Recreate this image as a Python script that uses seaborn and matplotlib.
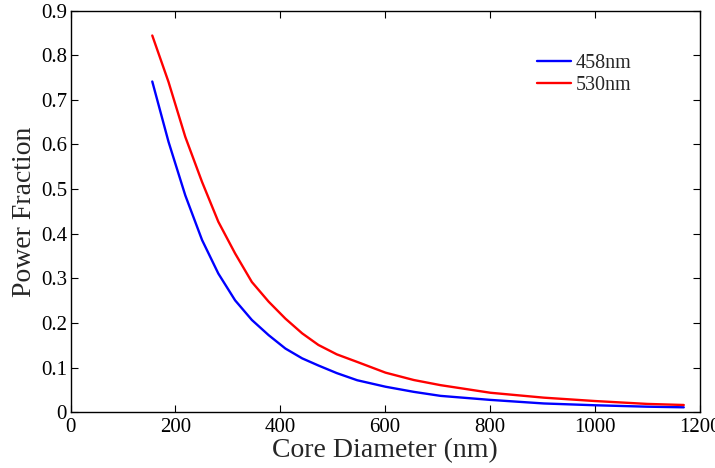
import matplotlib
matplotlib.use("Agg")
import matplotlib.pyplot as plt
import seaborn as sns
import pandas as pd

core_diameter = [156, 187, 219, 251, 282, 314, 346, 378, 410, 442, 473, 508,
                 547, 601, 655, 706, 801, 903, 1000, 1100, 1170]
frac_458 = [0.741, 0.606, 0.486, 0.386, 0.311, 0.251, 0.207, 0.173, 0.143, 0.121,
            0.105, 0.088, 0.072, 0.0575, 0.046, 0.037, 0.028, 0.020, 0.016, 0.0128, 0.0114]
frac_530 = [0.844, 0.740, 0.617, 0.516, 0.427, 0.356, 0.292, 0.248, 0.210, 0.177,
            0.151, 0.130, 0.113, 0.089, 0.0725, 0.061, 0.044, 0.033, 0.0255, 0.019, 0.0166]
series_labels = ["458nm", "530nm"]
x_ticks = [0, 200, 400, 600, 800, 1000, 1200]
y_ticks = [0, 0.1, 0.2, 0.3, 0.4, 0.5, 0.6, 0.7, 0.8, 0.9]

df = pd.DataFrame({
    "x": core_diameter + core_diameter,
    "y": frac_458 + frac_530,
    "series": [series_labels[0]] * len(core_diameter) + [series_labels[1]] * len(core_diameter),
})

sns.set_style("ticks")
plt.rcParams["font.family"] = ["Liberation Serif", "DejaVu Serif"]

fig = plt.figure(figsize=(7.15, 4.68), dpi=100)
ax = fig.add_axes([70.5 / 715, 1 - 412.4 / 468, 629 / 715, 401.9 / 468])

sns.lineplot(data=df, x="x", y="y", hue="series", palette=["#0000ff", "#ff0000"],
             linewidth=1.7, ax=ax, legend=True, sort=False)

ax.set_xlim(0, 1200)
ax.set_ylim(0, 0.9)
ax.set_xticks(x_ticks)
ax.set_xticklabels([str(t) for t in x_ticks])
ax.set_yticks(y_ticks)
ax.set_yticklabels(["0"] + [f"{t:.1f}" for t in y_ticks[1:]])
ax.tick_params(direction="in", top=True, right=True, length=5, width=0.8,
               labelsize=15, colors="black")
ax.tick_params(axis="x", pad=4)
ax.tick_params(axis="y", pad=2.5)
for s in ax.spines.values():
    s.set_visible(True)
    s.set_linewidth(1.0)
    s.set_color("black")
ax.set_xlabel("Core Diameter (nm)", fontsize=20, labelpad=1)
ax.set_ylabel("Power Fraction", fontsize=20, labelpad=3)

handles, labels = ax.get_legend_handles_labels()
ax.legend(handles, labels, loc="upper left", bbox_to_anchor=(0.742, 0.893),
          frameon=False, fontsize=14.5, handlelength=1.7, handletextpad=0.2,
          borderpad=0, borderaxespad=0, labelspacing=0.15)

fig.savefig("out.png", dpi=100)
